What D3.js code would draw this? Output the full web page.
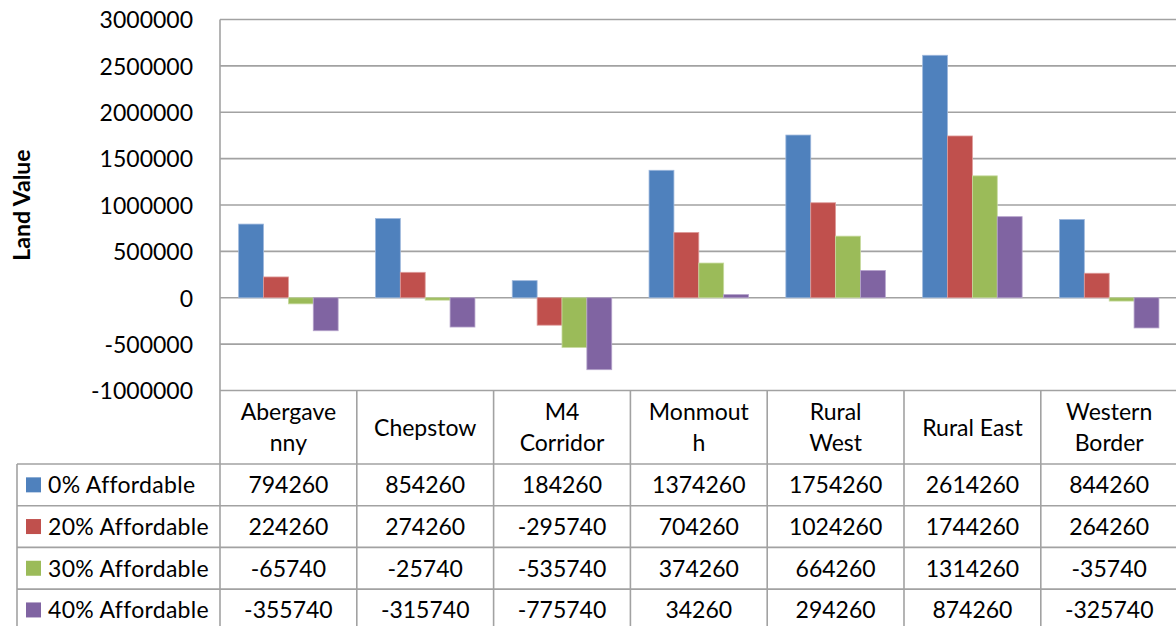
<!DOCTYPE html>
<html>
<head>
<meta charset="utf-8">
<script src="https://cdn.jsdelivr.net/npm/d3@7"></script>
<style>
  html, body { margin: 0; padding: 0; background: #fff; }
  svg { display: block; }
  text { font-family: Lato, "Open Sans", sans-serif; fill: #000; }
</style>
</head>
<body>
<svg id="chart" width="1176" height="626"></svg>
<script>
// Areas and their display labels (header cells of the data table)
const categories = ["Abergavenny", "Chepstow", "M4 Corridor", "Monmouth", "Rural West", "Rural East", "Western Border"];
const categoryLines = [["Abergave", "nny"], ["Chepstow"], ["M4", "Corridor"], ["Monmout", "h"], ["Rural", "West"], ["Rural East"], ["Western", "Border"]];

// Land value per area for each affordable-housing share
const seriesNames = ["0% Affordable", "20% Affordable", "30% Affordable", "40% Affordable"];
const affordable0  = [794260, 854260, 184260, 1374260, 1754260, 2614260, 844260];
const affordable20 = [224260, 274260, -295740, 704260, 1024260, 1744260, 264260];
const affordable30 = [-65740, -25740, -535740, 374260, 664260, 1314260, -35740];
const affordable40 = [-355740, -315740, -775740, 34260, 294260, 874260, -325740];
const seriesColors = ["#4F81BD", "#C0504D", "#9BBB59", "#8064A2"];
const edgeColors   = ["#9DB7DC", "#DE9C9A", "#C7DA9E", "#B6A4CC"];

const yTicks = [-1000000, -500000, 0, 500000, 1000000, 1500000, 2000000, 2500000, 3000000];

const seriesValues = [affordable0, affordable20, affordable30, affordable40];

const svg = d3.select("#chart");
const W = 1176, H = 626;

const plotLeft = 220, colW = 136.8;
const plotTop = 19.5, plotBottom = 390.5;
const tableTop = plotBottom, headerBottom = 464, rowH = 41.7, tableLeft = 17;

const x = d3.scaleBand().domain(categories).range([plotLeft, plotLeft + colW * categories.length]).paddingInner(0).paddingOuter(0);
const xs = d3.scaleBand().domain(seriesNames).range([0, x.bandwidth()]).paddingInner(0).paddingOuter(0.75);
const y = d3.scaleLinear().domain([-1000000, 3000000]).range([plotBottom, plotTop]);

const gridColor = "#a2a2a2";

// Horizontal gridlines
svg.append("g").selectAll("line").data(yTicks).join("line")
  .attr("x1", plotLeft).attr("x2", W)
  .attr("y1", d => y(d)).attr("y2", d => y(d))
  .attr("stroke", gridColor).attr("stroke-width", 1.6);

// Value axis labels
const yAxis = d3.axisLeft(y).tickValues(yTicks).tickFormat(d => String(d)).tickSize(0).tickPadding(0);
const gy = svg.append("g").attr("transform", `translate(193,0)`).call(yAxis);
gy.select(".domain").remove();
gy.selectAll("text").style("font-family", "Lato, sans-serif").style("font-size", "23px").attr("fill", "#000").attr("dy", "0.36em");

// Axis title
svg.append("text")
  .attr("transform", `translate(30,205) rotate(-90)`)
  .attr("text-anchor", "middle")
  .style("font-size", "23px").style("font-weight", "bold")
  .text("Land Value");

// Bars
const groups = svg.append("g").selectAll("g").data(seriesNames).join("g");
groups.each(function(name, si) {
  d3.select(this).selectAll("rect").data(seriesValues[si]).join("rect")
    .attr("x", (d, i) => x(categories[i]) + xs(name))
    .attr("width", xs.bandwidth())
    .attr("y", d => y(Math.max(0, d)))
    .attr("height", d => Math.abs(y(d) - y(0)))
    .attr("fill", seriesColors[si])
    .attr("stroke", edgeColors[si]).attr("stroke-width", 0.8);
});

// Data table grid
const tbl = svg.append("g").attr("stroke", gridColor).attr("stroke-width", 1.6);
// vertical lines
tbl.append("line").attr("x1", plotLeft).attr("x2", plotLeft).attr("y1", plotTop).attr("y2", H);
categories.forEach(c => {
  const xr = x(c) + x.bandwidth();
  tbl.append("line").attr("x1", xr).attr("x2", xr).attr("y1", tableTop).attr("y2", H);
});
tbl.append("line").attr("x1", tableLeft).attr("x2", tableLeft).attr("y1", headerBottom).attr("y2", H);
// horizontal row lines
for (let r = 0; r <= seriesNames.length; r++) {
  const yy = headerBottom + r * rowH;
  tbl.append("line").attr("x1", tableLeft).attr("x2", W).attr("y1", yy).attr("y2", yy);
}

// Header cells
const headerMid = (tableTop + headerBottom) / 2;
categories.forEach((c, i) => {
  const lines = categoryLines[i];
  const cx = x(c) + x.bandwidth() / 2;
  const lh = 31;
  lines.forEach((ln, k) => {
    svg.append("text")
      .attr("x", cx)
      .attr("y", headerMid + (k - (lines.length - 1) / 2) * lh)
      .attr("dy", "0.36em")
      .attr("text-anchor", "middle")
      .style("font-size", "23px")
      .text(ln);
  });
});

// Legend keys and values
seriesNames.forEach((name, si) => {
  const rowMid = headerBottom + si * rowH + rowH / 2;
  svg.append("rect").attr("x", 26).attr("y", rowMid - 7.5).attr("width", 15).attr("height", 15)
    .attr("fill", seriesColors[si]);
  svg.append("text").attr("x", 48).attr("y", rowMid).attr("dy", "0.36em")
    .style("font-size", "23px").style("letter-spacing", "0.3px").text(name);
  seriesValues[si].forEach((v, i) => {
    svg.append("text")
      .attr("x", x(categories[i]) + x.bandwidth() / 2)
      .attr("y", rowMid).attr("dy", "0.36em")
      .attr("text-anchor", "middle")
      .style("font-size", "23px")
      .text(String(v));
  });
});
</script>
</body>
</html>
